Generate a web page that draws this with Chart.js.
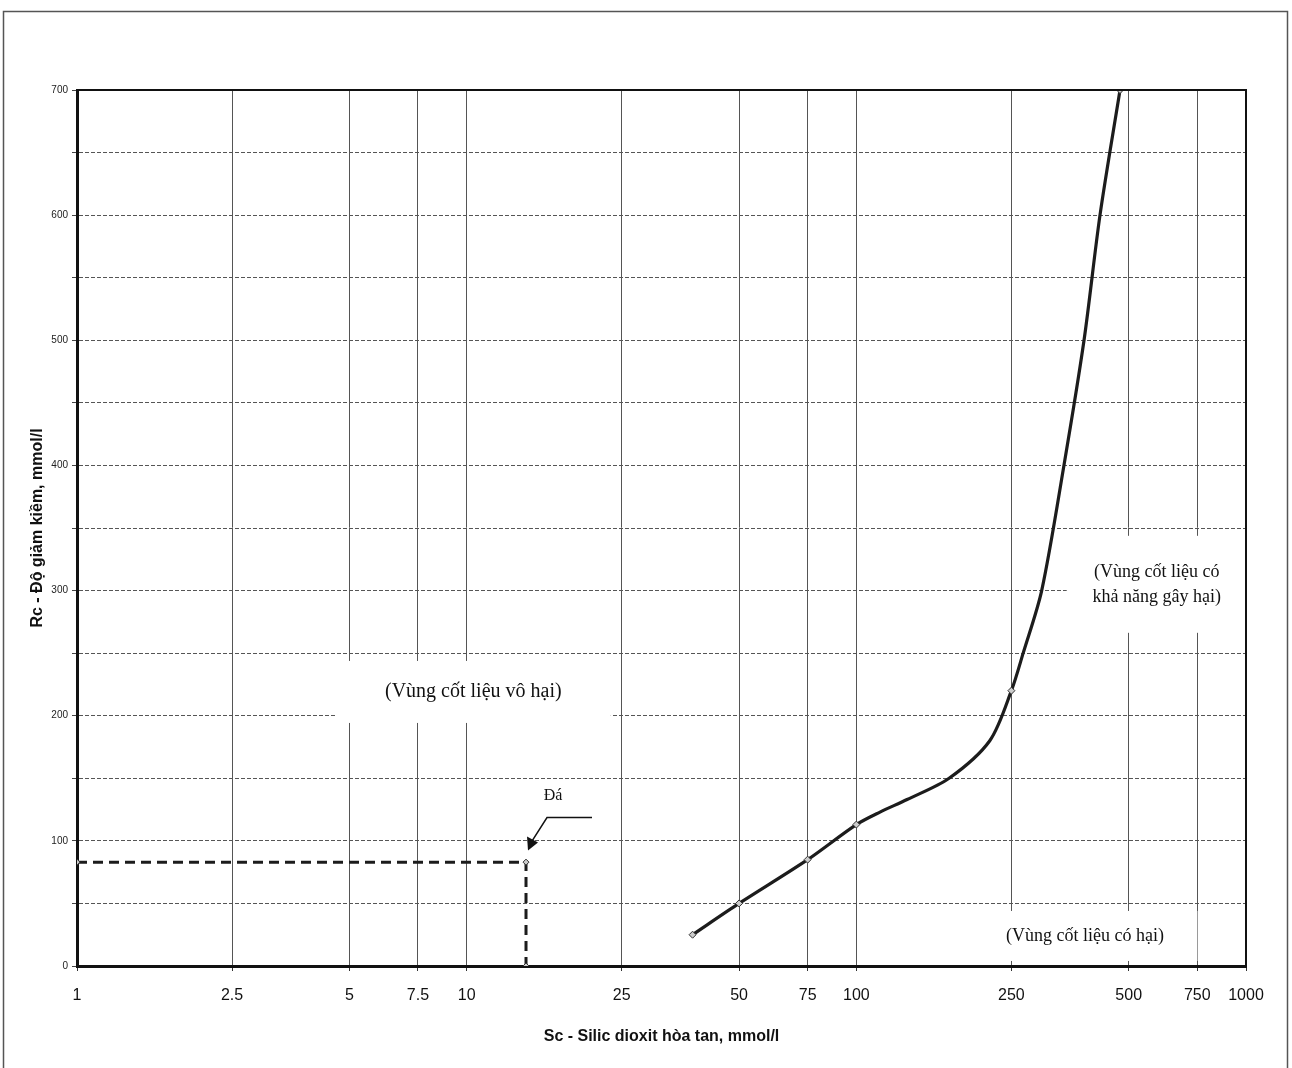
<!DOCTYPE html>
<html>
<head>
<meta charset="utf-8">
<script src="https://cdn.jsdelivr.net/npm/chart.js@4"></script>
<style>
  html,body{margin:0;padding:0;background:#fff;}
  canvas{display:block;}
</style>
</head>
<body>
<canvas id="c" width="1292" height="1068"></canvas>
<script>
// Curve Rc vs Sc
const curveSc = [38, 50, 75, 100, 115, 135, 173, 220, 250, 268, 299, 341, 384, 422, 475];
const curveRc = [25, 50, 85, 113, 123, 133, 150, 180, 220, 250, 300, 400, 500, 600, 700];
const curveMarkers = [38, 50, 75, 100, 250, 475];

// Sample "Đá" dashed guide
const rockSc = [1, 14.2, 14.2];
const rockRc = [83, 83, 0];

// Axis ticks
const xTicks = [1, 2.5, 5, 7.5, 10, 25, 50, 75, 100, 250, 500, 750, 1000];
const yMin = 0, yMax = 700, yStep = 50, yLabelStep = 100;

const xTitle = 'Sc - Silic dioxit hòa tan, mmol/l';
const yTitle = 'Rc - Độ giảm kiềm, mmol/l';

// zone labels: text lines + anchor (Sc, Rc)
const zoneSafe  = { lines:['(Vùng cốt liệu vô hại)'], sc:10.4, rc:219 };
const zoneMaybe = { lines:['(Vùng cốt liệu có','khả năng gây hại)'], sc:590, rc:305 };
const zoneBad   = { lines:['(Vùng cốt liệu có hại)'], sc:386, rc:24 };
const rockLabel = { text:'Đá', sc:14.2, rc:89 };

const pts = (xs, ys) => xs.map((x,i)=>({x, y:ys[i]}));

// box sizes / fonts for the zone labels
const zoneStyle = [
  { z:zoneSafe,  font:'20px "Liberation Serif"', lh:25, box:[275, 62] },
  { z:zoneMaybe, font:'18px "Liberation Serif"', lh:25, box:[180, 97], alignRight:true },
  { z:zoneBad,   font:'18px "Liberation Serif"', lh:22, box:[225, 50] }
];

const decor = {
  id:'decor',
  beforeDatasetsDraw(chart){
    const {ctx, scales:{x, y}, chartArea:a} = chart;
    ctx.save();
    for(const s of zoneStyle){
      const cx = x.getPixelForValue(s.z.sc), cy = y.getPixelForValue(s.z.rc);
      let [w,h] = s.box;
      let bx = cx - w/2, by = cy - h/2;
      if(s.alignRight){ bx = cx - 90; w = a.right - bx - 1; }
      if(by + h > a.bottom - 3) h = a.bottom - 3 - by;
      ctx.fillStyle = '#fff';
      ctx.fillRect(bx, by, w, h);
      ctx.fillStyle = '#111';
      ctx.font = s.font;
      ctx.textAlign = 'center'; ctx.textBaseline = 'middle';
      const n = s.z.lines.length;
      s.z.lines.forEach((t,i)=> ctx.fillText(t, cx, cy + (i - (n-1)/2) * s.lh));
    }
    ctx.restore();
  },
  afterDraw(chart){
    const {ctx, scales:{x, y}, chartArea:a} = chart;
    ctx.save();
    // top and right frame of the plot
    ctx.strokeStyle = '#111'; ctx.lineWidth = 2;
    ctx.beginPath();
    ctx.moveTo(a.left, a.top); ctx.lineTo(a.right, a.top); ctx.lineTo(a.right, a.bottom);
    ctx.stroke();
    // outer page frame
    ctx.strokeStyle = '#555'; ctx.lineWidth = 1.5;
    ctx.strokeRect(3.5, 11.5, chart.width - 8, chart.height + 20);

    // arrow pointing to the rock sample
    const tx = x.getPixelForValue(rockLabel.sc) + 2, ty = y.getPixelForValue(rockLabel.rc) - 4;
    ctx.strokeStyle = '#111'; ctx.lineWidth = 1.5;
    ctx.beginPath();
    ctx.moveTo(tx + 64, ty - 33); ctx.lineTo(tx + 19, ty - 33); ctx.lineTo(tx + 3, ty - 8);
    ctx.stroke();
    ctx.fillStyle = '#111';
    ctx.beginPath();
    ctx.moveTo(tx, ty); ctx.lineTo(tx - 1, ty - 14); ctx.lineTo(tx + 10, ty - 8);
    ctx.closePath(); ctx.fill();
    ctx.font = '16px "Liberation Serif"';
    ctx.textAlign = 'center'; ctx.textBaseline = 'middle';
    ctx.fillText(rockLabel.text, tx + 25, ty - 55);
    ctx.restore();
  }
};

new Chart(document.getElementById('c').getContext('2d'), {
  type:'scatter',
  data:{ datasets:[
    {
      data: pts(curveSc, curveRc),
      showLine:true,
      borderColor:'#1c1c1c', borderWidth:3.2,
      tension:0.3,
      pointStyle:'rectRot',
      pointRadius: c => curveMarkers.includes(curveSc[c.dataIndex]) ? 3.5 : 0,
      pointBackgroundColor:'#ccc', pointBorderColor:'#333', pointBorderWidth:1
    },
    {
      data: pts(rockSc, rockRc),
      showLine:true,
      borderColor:'#1c1c1c', borderWidth:3, borderDash:[10,6],
      tension:0,
      pointStyle:'rectRot', pointRadius:3,
      pointBackgroundColor:'#ccc', pointBorderColor:'#333', pointBorderWidth:1
    }
  ]},
  options:{
    responsive:false, animation:false,
    layout:{ padding:{ top:90, right:46, left:0, bottom:0 } },
    plugins:{ legend:{display:false}, tooltip:{enabled:false} },
    scales:{
      x:{
        type:'logarithmic', min:1, max:1000,
        afterBuildTicks: s => { s.ticks = xTicks.map(v=>({value:v})); },
        afterFit: s => { s.height = 102; },
        ticks:{ autoSkip:false, maxRotation:0, padding:15, color:'#111',
                font:{ family:'Liberation Sans', size:16 },
                callback: v => String(v) },
        grid:{ color:'#555', lineWidth:1, tickLength:5, tickColor:'#333' },
        border:{ color:'#111', width:3 },
        title:{ display:true, text:xTitle, color:'#111',
                font:{ family:'Liberation Sans', size:16, weight:'bold' },
                padding:{ top:0, bottom:22 } }
      },
      y:{
        min:yMin, max:yMax,
        afterFit: s => { s.width = 77; },
        ticks:{ stepSize:yStep, padding:4, color:'#222',
                font:{ family:'Liberation Sans', size:10 },
                callback: v => v % yLabelStep === 0 ? v : '' },
        grid:{ color:'#555', lineWidth:1, tickLength:5, tickColor:'#444' },
        border:{ color:'#111', width:3, dash:[4,2] },
        title:{ display:true, text:yTitle, color:'#111',
                font:{ family:'Liberation Sans', size:16, weight:'bold' },
                padding:{ top:28, bottom:0 } }
      }
    }
  },
  plugins:[decor]
});
</script>
</body>
</html>
